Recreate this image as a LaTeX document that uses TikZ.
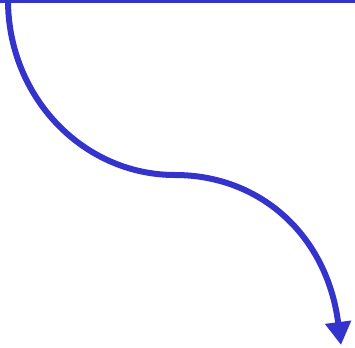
\documentclass[tikz,border=0pt]{standalone}
\usetikzlibrary{arrows.meta}
\definecolor{ink}{RGB}{52,52,204}
\begin{document}
\begin{tikzpicture}[x=1pt,y=-1pt,
  thin line/.style={ink,line width=3pt},
  flow/.style={ink,line width=6pt,-{Triangle[length=23pt,width=25pt]}}]
\useasboundingbox (0,0) rectangle (355,347);
\coordinate (l1) at (0,1.5);
\coordinate (l2) at (355,1.5);
\coordinate (s) at (8,0);
\coordinate (m) at (175,175);
\coordinate (e) at (341,345);
\draw[thin line] (l1) -- (l2);
\draw[flow] (s) .. controls (8,97) and (83,175) .. (m)
  .. controls (260,175) and (327,235) .. (e);
\end{tikzpicture}
\end{document}
